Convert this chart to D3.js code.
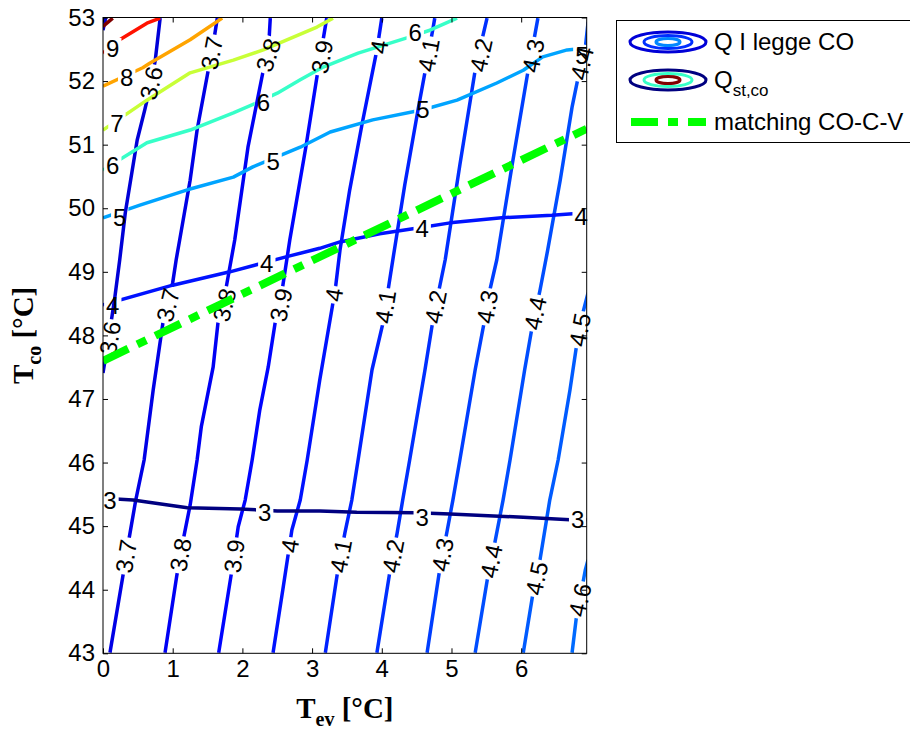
<!DOCTYPE html>
<html>
<head>
<meta charset="utf-8">
<script src="https://cdn.jsdelivr.net/npm/d3@7"></script>
<style>
  body { margin: 0; background: #fff; }
</style>
</head>
<body>
<div id="chart"></div>
<script>

// axis ticks
const xTicks = [0, 1, 2, 3, 4, 5, 6];
const yTicks = [43, 44, 45, 46, 47, 48, 49, 50, 51, 52, 53];

// "Q I legge CO" contour lines, [T_ev, T_co], bottom to top
const qLeggeCO = [
    {level: 3.5, pts: [[0, 52.80], [0.04, 53.0]]},
    {level: 3.6, pts: [[0, 47.41], [0.10, 48.09], [0.17, 48.60], [0.24, 49.19], [0.32, 49.93], [0.49, 51.07], [0.60, 51.55], [0.69, 51.97], [0.75, 52.33], [0.82, 52.99]]},
    {level: 3.7, pts: [[0.10, 43.01], [0.30, 44.31], [0.37, 44.78], [0.47, 45.41], [0.59, 46.04], [0.72, 47.14], [0.86, 48.20], [1.00, 48.83], [1.05, 49.19], [1.10, 49.50], [1.25, 50.44], [1.35, 51.23], [1.51, 52.17], [1.58, 52.57], [1.64, 52.99]]},
    {level: 3.8, pts: [[0.89, 43.01], [1.06, 44.23], [1.15, 44.78], [1.25, 45.33], [1.35, 46.04], [1.41, 46.56], [1.58, 47.50], [1.65, 48.20], [1.76, 48.71], [1.89, 49.50], [2.08, 50.96], [2.30, 52.17], [2.37, 52.41], [2.40, 52.99]]},
    {level: 3.9, pts: [[1.66, 43.01], [1.85, 44.31], [1.94, 44.99], [2.04, 45.41], [2.14, 46.04], [2.25, 46.83], [2.37, 47.50], [2.47, 48.20], [2.57, 48.71], [2.68, 49.50], [2.91, 50.96], [3.08, 52.14], [3.21, 52.99]]},
    {level: 4.0, pts: [[2.44, 43.01], [2.58, 44.00], [2.71, 44.94], [2.83, 45.41], [2.93, 46.04], [3.11, 47.30], [3.29, 48.45], [3.34, 48.79], [3.40, 49.34], [3.54, 50.29], [3.72, 51.34], [3.93, 52.49], [4.00, 52.99]]},
    {level: 4.1, pts: [[3.19, 43.01], [3.37, 44.31], [3.47, 44.89], [3.57, 45.41], [3.66, 46.04], [3.86, 47.46], [4.02, 48.21], [4.09, 48.71], [4.18, 49.34], [4.33, 50.37], [4.52, 51.55], [4.62, 52.14], [4.73, 52.80], [4.76, 52.99]]},
    {level: 4.2, pts: [[3.93, 43.01], [4.12, 44.31], [4.22, 44.89], [4.30, 45.41], [4.40, 46.04], [4.62, 47.46], [4.73, 48.21], [4.82, 48.71], [4.91, 49.19], [5.12, 50.68], [5.34, 52.17], [5.42, 52.57], [5.51, 52.99]]},
    {level: 4.3, pts: [[4.65, 43.01], [4.83, 44.31], [4.94, 44.94], [5.02, 45.41], [5.12, 46.04], [5.34, 47.46], [5.47, 48.21], [5.55, 48.71], [5.65, 49.19], [5.87, 50.68], [6.10, 52.17], [6.17, 52.57], [6.24, 52.99]]},
    {level: 4.4, pts: [[5.34, 43.01], [5.52, 44.20], [5.62, 44.73], [5.74, 45.41], [5.84, 46.04], [6.05, 47.46], [6.15, 48.09], [6.27, 48.71], [6.38, 49.34], [6.56, 50.44], [6.73, 51.59], [6.81, 52.02], [6.92, 52.52], [6.96, 52.93]]},
    {level: 4.5, pts: [[6.03, 43.01], [6.17, 43.95], [6.27, 44.47], [6.41, 45.41], [6.53, 46.04], [6.70, 47.14], [6.80, 47.88], [6.87, 48.29], [6.96, 48.67]]},
    {level: 4.6, pts: [[6.73, 43.01], [6.80, 43.64], [6.84, 43.84], [6.92, 44.31], [6.96, 44.47]]}
];

// "Q st,co" contour lines, left to right
const qStCO = [
    {level: 3, pts: [[0, 45.44], [0.43, 45.41], [0.63, 45.38], [1.21, 45.29], [1.97, 45.27], [2.50, 45.24], [3.11, 45.24], [3.64, 45.22], [4.50, 45.21], [4.98, 45.19], [6.03, 45.14], [6.70, 45.10], [6.94, 45.10]]},
    {level: 4, pts: [[0, 48.48], [1.00, 48.79], [1.82, 49.00], [2.68, 49.25], [3.11, 49.37], [3.40, 49.47], [3.97, 49.60], [4.59, 49.70], [4.98, 49.77], [5.72, 49.85], [6.44, 49.89], [6.94, 49.93]]},
    {level: 5, pts: [[0, 49.85], [0.53, 50.05], [1.21, 50.29], [1.87, 50.49], [2.15, 50.65], [2.83, 50.96], [3.26, 51.20], [3.87, 51.39], [4.59, 51.55], [5.08, 51.70], [5.65, 51.97], [6.03, 52.17], [6.31, 52.38], [6.66, 52.49], [6.94, 52.52]]},
    {level: 6, pts: [[0, 50.60], [0.63, 51.03], [1.25, 51.23], [1.87, 51.50], [2.21, 51.66], [2.50, 51.81], [2.83, 52.02], [3.16, 52.22], [3.66, 52.44], [4.36, 52.68], [4.69, 52.80], [5.08, 52.99]]},
    {level: 7, pts: [[0, 51.23], [0.63, 51.70], [1.25, 52.13], [1.87, 52.33], [2.30, 52.49], [3.07, 52.85], [3.30, 52.99]]},
    {level: 8, pts: [[0, 51.92], [0.57, 52.21], [0.67, 52.28], [1.25, 52.65], [1.71, 52.99]]},
    {level: 9, pts: [[0, 52.44], [0.24, 52.65], [0.63, 52.91], [0.82, 52.99]]},
    {level: 10, pts: [[0, 52.86], [0.14, 52.99]]}
];

// contour labels: [level, T_ev, T_co]
const qLeggeLabels = [
    [3.6, 0.10, 47.96], [3.7, 0.93, 48.48], [3.8, 1.74, 48.48], [3.9, 2.55, 48.48], [4, 3.31, 48.64],
    [4.1, 4.05, 48.45], [4.2, 4.77, 48.45], [4.3, 5.51, 48.45], [4.4, 6.20, 48.35], [4.5, 6.84, 48.09],
    [3.7, 0.33, 44.53], [3.8, 1.11, 44.55], [3.9, 1.88, 44.53], [4, 2.68, 44.69], [4.1, 3.41, 44.53],
    [4.2, 4.16, 44.53], [4.3, 4.87, 44.55], [4.4, 5.57, 44.45], [4.5, 6.22, 44.18], [4.6, 6.84, 43.84],
    [3.6, 0.69, 51.97], [3.7, 1.56, 52.44], [3.8, 2.37, 52.41], [3.9, 3.14, 52.38], [4, 3.96, 52.54],
    [4.1, 4.67, 52.41], [4.2, 5.42, 52.41], [4.3, 6.17, 52.40], [4.4, 6.87, 52.28]
];
const qStLabels = [
    [3, 0.10, 45.41], [3, 2.32, 45.22], [3, 4.58, 45.14], [3, 6.81, 45.10],
    [4, 0.14, 48.48], [4, 2.35, 49.13], [4, 4.58, 49.68], [4, 6.86, 49.88],
    [5, 0.24, 49.86], [5, 2.44, 50.73], [5, 4.59, 51.55], [5, 6.87, 52.41],
    [6, 0.14, 50.68], [6, 2.30, 51.67], [6, 4.48, 52.76],
    [7, 0.20, 51.34], [8, 0.34, 52.06], [9, 0.14, 52.52]
];

// matching CO-C-V line
const matching = [[0, 47.6], [6.94, 51.25]];

const legendItems = ["Q I legge CO", "Q", "matching CO-C-V"];

// ---------------------------------------------------------------

const width = 910, height = 738;
const plot = {left: 103, top: 17.5, right: 586.7, bottom: 653.3};
const fs = 24;
const sans = "'Liberation Sans', Arial, sans-serif";
const serif = "'Liberation Serif', 'Times New Roman', serif";

// jet colormap, colour limits shared by both contour sets
function jet(v) {
    let t = (v - 3) / 7;
    let c = k => Math.round(255 * Math.max(0, Math.min(1, 1.5 - Math.abs(4 * t - k))));
    return d3.rgb(c(3), c(2), c(1)).formatHex();
}

let x = d3.scaleLinear().domain([0, 6.94]).range([plot.left, plot.right]);
let y = d3.scaleLinear().domain([43, 53]).range([plot.bottom, plot.top]);

let svg = d3.select("#chart").append("svg")
    .attr("width", width)
    .attr("height", height)
    .style("font-family", sans);

svg.append("rect").attr("width", width).attr("height", height).attr("fill", "#fff");

let defs = svg.append("defs");
defs.append("clipPath").attr("id", "plotClip")
    .append("rect")
        .attr("x", plot.left).attr("y", plot.top)
        .attr("width", plot.right - plot.left)
        .attr("height", plot.bottom - plot.top);

let contours = qLeggeCO.map((c, i) => ({id: "ql" + i, set: "legge", level: c.level, pts: c.pts}))
    .concat(qStCO.map((c, i) => ({id: "qs" + i, set: "st", level: c.level, pts: c.pts})));

let labels = qLeggeLabels.map(d => ({set: "legge", level: d[0], xv: d[1], yv: d[2]}))
    .concat(qStLabels.map(d => ({set: "st", level: d[0], xv: d[1], yv: d[2]})));

// labels of the near-vertical set follow their line, the others stay upright
labels.forEach(lb => {
    let c = contours.find(e => e.set === lb.set && e.level === lb.level);
    lb.contour = c;
    lb.px = x(lb.xv);
    lb.py = y(lb.yv);
    let best = Infinity, ang = 0;
    for (let i = 0; i < c.pts.length - 1; i++) {
        let ax = x(c.pts[i][0]), ay = y(c.pts[i][1]);
        let bx = x(c.pts[i + 1][0]), by = y(c.pts[i + 1][1]);
        let dx = bx - ax, dy = by - ay;
        let t = Math.max(0, Math.min(1, ((lb.px - ax) * dx + (lb.py - ay) * dy) / (dx * dx + dy * dy)));
        let ex = ax + t * dx - lb.px, ey = ay + t * dy - lb.py;
        let dist = ex * ex + ey * ey;
        if (dist < best) {
            best = dist;
            ang = Math.atan2(dy, dx) * 180 / Math.PI;
        }
    }
    if (ang > 90) ang -= 180;
    if (ang < -90) ang += 180;
    lb.angle = lb.set === "legge" ? ang : 0;
});

let lineGen = d3.line().x(d => x(d[0])).y(d => y(d[1]));

let linesG = svg.append("g").attr("clip-path", "url(#plotClip)");
let labelsG = svg.append("g");

let labelText = labelsG.selectAll("text").data(labels).enter()
    .append("text")
        .attr("transform", d => "translate(" + d.px + "," + d.py + ") rotate(" + d.angle + ")")
        .attr("text-anchor", "middle")
        .attr("dy", "0.36em")
        .attr("font-size", fs)
        .attr("fill", "#000")
        .text(d => String(d.level));

labelText.each(function(d) { d.w = this.getComputedTextLength(); });

// gaps in the lines under their labels
contours.forEach(c => {
    let m = defs.append("mask").attr("id", "mask-" + c.id)
        .attr("maskUnits", "userSpaceOnUse")
        .attr("x", 0).attr("y", 0).attr("width", width).attr("height", height);
    m.append("rect").attr("width", width).attr("height", height).attr("fill", "#fff");
    m.selectAll("rect.gap").data(labels.filter(l => l.contour === c)).enter()
        .append("rect")
            .attr("class", "gap")
            .attr("x", d => -d.w / 2 - 2)
            .attr("y", -fs * 0.42)
            .attr("width", d => d.w + 4)
            .attr("height", fs * 0.84)
            .attr("transform", d => "translate(" + d.px + "," + d.py + ") rotate(" + d.angle + ")")
            .attr("fill", "#000");
});

linesG.selectAll("path.contour").data(contours).enter()
    .append("path")
        .attr("class", "contour")
        .attr("d", d => lineGen(d.pts))
        .attr("mask", d => "url(#mask-" + d.id + ")")
        .attr("fill", "none")
        .attr("stroke", d => jet(d.level))
        .attr("stroke-width", 3.5)
        .attr("stroke-linejoin", "round");

svg.append("g").attr("clip-path", "url(#plotClip)")
    .append("path")
        .datum(matching)
        .attr("d", lineGen)
        .attr("fill", "none")
        .attr("stroke", "#00ff00")
        .attr("stroke-width", 8)
        .attr("stroke-dasharray", "28 10 10 10");

// axes, MATLAB style: inward ticks on all four sides
function styleAxis(g) {
    g.select(".domain").remove();
    g.selectAll(".tick line").attr("stroke", "#000");
    g.selectAll("text")
        .attr("font-family", sans)
        .attr("font-size", fs)
        .attr("fill", "#000");
}

svg.append("g").attr("transform", "translate(0," + plot.bottom + ")")
    .call(d3.axisBottom(x).tickValues(xTicks).tickFormat(d3.format("d")).tickSizeInner(-5).tickSizeOuter(0).tickPadding(7))
    .call(styleAxis);
svg.append("g").attr("transform", "translate(0," + plot.top + ")")
    .call(d3.axisTop(x).tickValues(xTicks).tickSizeInner(-5).tickSizeOuter(0).tickFormat(""))
    .call(styleAxis);
svg.append("g").attr("transform", "translate(" + plot.left + ",0)")
    .call(d3.axisLeft(y).tickValues(yTicks).tickFormat(d3.format("d")).tickSizeInner(-5).tickSizeOuter(0).tickPadding(8))
    .call(styleAxis);
svg.append("g").attr("transform", "translate(" + plot.right + ",0)")
    .call(d3.axisRight(y).tickValues(yTicks).tickSizeInner(-5).tickSizeOuter(0).tickFormat(""))
    .call(styleAxis);

svg.append("rect")
    .attr("x", plot.left).attr("y", plot.top)
    .attr("width", plot.right - plot.left)
    .attr("height", plot.bottom - plot.top)
    .attr("fill", "none")
    .attr("stroke", "#000")
    .attr("stroke-width", 1);

// axis titles
let xt = svg.append("text")
    .attr("x", (plot.left + plot.right) / 2)
    .attr("y", 718)
    .attr("text-anchor", "middle")
    .style("font-family", serif)
    .attr("font-weight", "bold")
    .attr("font-size", 29);
xt.append("tspan").text("T");
xt.append("tspan").attr("font-size", 20).attr("dy", 8).text("ev");
xt.append("tspan").attr("dy", -8).text(" [\u00B0C]");

let yt = svg.append("text")
    .attr("transform", "translate(33," + ((plot.top + plot.bottom) / 2) + ") rotate(-90)")
    .attr("text-anchor", "middle")
    .style("font-family", serif)
    .attr("font-weight", "bold")
    .attr("font-size", 29);
yt.append("tspan").text("T");
yt.append("tspan").attr("font-size", 20).attr("dy", 8).text("co");
yt.append("tspan").attr("dy", -8).text(" [\u00B0C]");

// legend
let legend = svg.append("g");
legend.append("rect")
    .attr("x", 616.5).attr("y", 20.5)
    .attr("width", 300).attr("height", 122)
    .attr("fill", "#fff")
    .attr("stroke", "#000")
    .attr("stroke-width", 1);

let iconX = 668;
let rings = [
    {cy: 42, r: [[38, 10, 3.6], [24, 6.5, 4.2], [12, 3.5, 4.8]]},
    {cy: 80, r: [[38, 10, 3], [24, 6.5, 6], [12, 3.5, 10]]}
];
rings.forEach(row => {
    legend.selectAll(null).data(row.r).enter()
        .append("ellipse")
            .attr("cx", iconX).attr("cy", row.cy)
            .attr("rx", d => d[0]).attr("ry", d => d[1])
            .attr("fill", "none")
            .attr("stroke", d => jet(d[2]))
            .attr("stroke-width", 3);
});

legend.append("line")
    .attr("x1", 631).attr("x2", 706)
    .attr("y1", 122).attr("y2", 122)
    .attr("stroke", "#00ff00")
    .attr("stroke-width", 8)
    .attr("stroke-dasharray", "27 10 10 10");

legend.append("text").attr("x", 714).attr("y", 50).attr("font-size", fs).text(legendItems[0]);
let q = legend.append("text").attr("x", 714).attr("y", 88).attr("font-size", fs);
q.append("tspan").text(legendItems[1]);
q.append("tspan").attr("font-size", 17).attr("dy", 8).text("st,co");
legend.append("text").attr("x", 714).attr("y", 130).attr("font-size", fs).text(legendItems[2]);

</script>
</body>
</html>
